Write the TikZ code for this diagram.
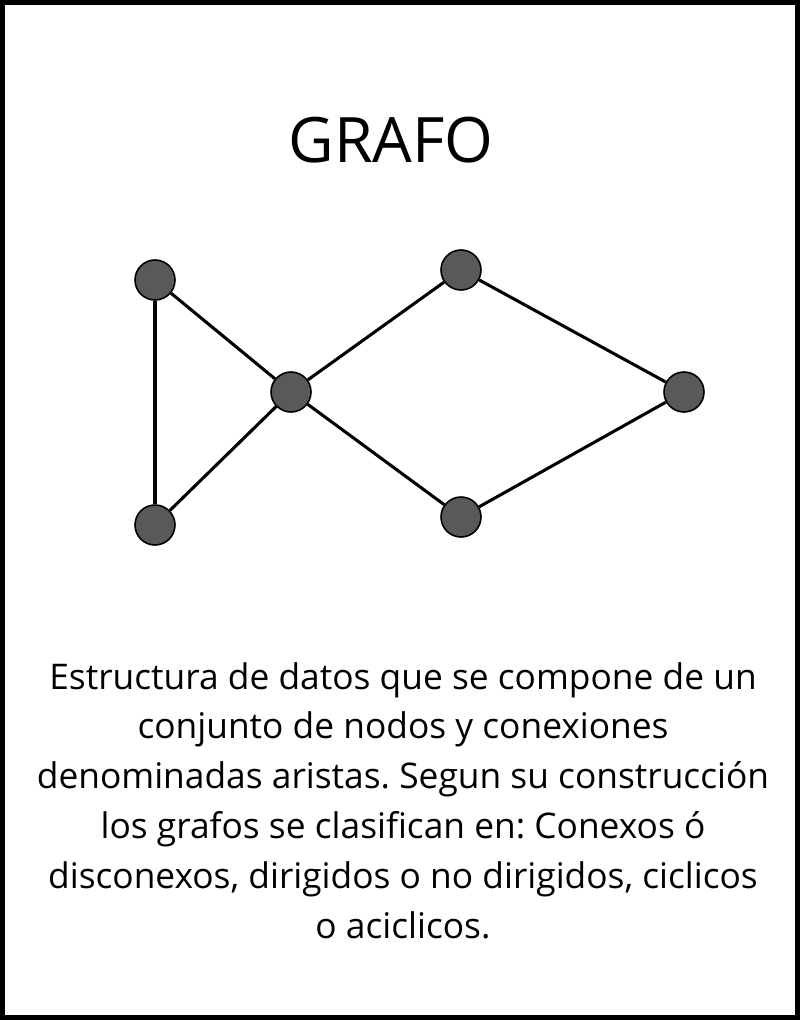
\documentclass[tikz,border=0pt]{standalone}
\usepackage{fontspec}
\setmainfont{Open Sans}
\definecolor{nodegray}{HTML}{595959}
\tikzset{
  vertex/.style={circle,draw=black,line width=1.2pt,fill=nodegray,minimum size=30pt,inner sep=0pt},
  edge/.style={line width=2.3pt,black}
}
\begin{document}
\frenchspacing
\begin{tikzpicture}[x=0.75pt,y=-0.75pt]
			\useasboundingbox (0,0) rectangle (800,1020);
			\draw[line width=3.8pt] (2.5,2.5) rectangle (797.5,1017.5);

			\node[font=\fontsize{47}{56}\selectfont] (title) at (391,140) {GRAFO};

			\node[vertex] (topleft) at (155,280) {};
			\node[vertex] (botleft) at (155,525) {};
			\node[vertex] (center) at (291,392) {};
			\node[vertex] (topmid) at (461,270) {};
			\node[vertex] (botmid) at (461,517) {};
			\node[vertex] (right) at (684,392) {};

			\draw[edge] (topleft) -- (botleft);
			\draw[edge] (topleft) -- (center);
			\draw[edge] (botleft) -- (center);
			\draw[edge] (center) -- (topmid);
			\draw[edge] (center) -- (botmid);
			\draw[edge] (topmid) -- (right);
			\draw[edge] (botmid) -- (right);

			\node[anchor=north,inner sep=0pt,align=center,font=\fontsize{26.5}{37.4}\selectfont] (desc) at (403,662)
				{Estructura de datos que se compone de un\\
				conjunto de nodos y conexiones\\
				denominadas aristas. Segun su construcción\\
				los grafos se clasifican en: Conexos ó\\
				disconexos, dirigidos o no dirigidos, ciclicos\\
				o aciclicos.};
		\end{tikzpicture}
\end{document}
